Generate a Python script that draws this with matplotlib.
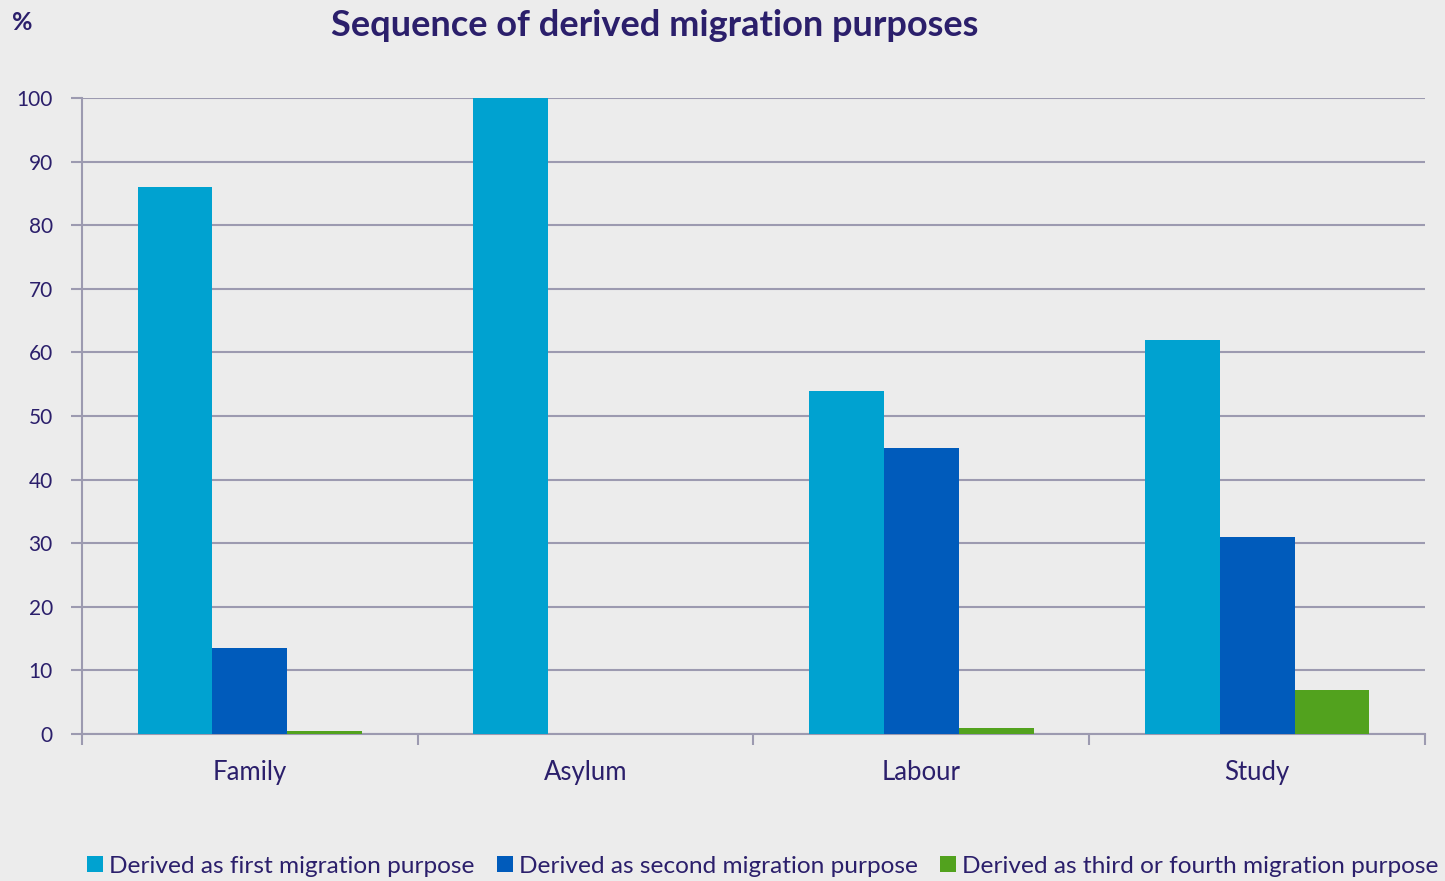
import numpy as np
import matplotlib
matplotlib.use("Agg")
import matplotlib.pyplot as plt

# data
categories = ["Family", "Asylum", "Labour", "Study"]
first_purpose = [86, 100, 54, 62]
second_purpose = [13.5, 0, 45, 31]
third_purpose = [0.5, 0, 1, 7]
series_names = ["Derived as first migration purpose",
                "Derived as second migration purpose",
                "Derived as third or fourth migration purpose"]
yticks = list(range(0, 101, 10))

text_col = "#2b1f6b"
grid_col = "#9c9ab0"
bg = "#ececec"
colors = ["#00a2d0", "#005bbb", "#52a21e"]

plt.rcParams['font.family'] = ['Lato', 'DejaVu Sans']

fig = plt.figure(figsize=(14.45, 8.81), dpi=100, facecolor=bg)
ax = fig.add_axes([0.0567, 0.1668, 0.9295, 0.722])
ax.set_facecolor(bg)

x = np.arange(len(categories))
w = 0.223
for i, vals in enumerate([first_purpose, second_purpose, third_purpose]):
    ax.bar(x + (i - 1) * w, vals, width=w, color=colors[i], label=series_names[i], zorder=3)

ax.set_xlim(-0.5, len(categories) - 0.5)
ax.set_ylim(0, 100)
ax.set_yticks(yticks)
ax.yaxis.grid(True, color=grid_col, linewidth=1.5, zorder=0)
ax.set_axisbelow(True)

# category labels centred, ticks at the group boundaries
ax.set_xticks(x)
ax.set_xticklabels(categories)
ax.set_xticks(np.arange(-0.5, len(categories) + 0.5, 1), minor=True)
ax.tick_params(axis='x', which='major', length=0, pad=19, labelsize=18.5, labelcolor=text_col)
ax.tick_params(axis='x', which='minor', length=8, width=1.5, color=grid_col)
ax.tick_params(axis='y', length=8, width=1.5, color=grid_col, labelsize=15, labelcolor=text_col, pad=13)

for s in ['top', 'right']:
    ax.spines[s].set_visible(False)
ax.spines['left'].set_color(grid_col)
ax.spines['left'].set_linewidth(1.5)
ax.spines['bottom'].set_color(grid_col)
ax.spines['bottom'].set_linewidth(1.5)

fig.text(0.4533, 0.971, "Sequence of derived migration purposes", ha='center', va='center',
         fontsize=26, fontweight='bold', color=text_col)
fig.text(0.008, 0.974, "%", ha='left', va='center', fontsize=18, fontweight='bold', color=text_col)

fig.legend(loc='center', bbox_to_anchor=(0.528, 0.017), ncol=3, frameon=False, fontsize=17.6,
           labelcolor=text_col, handlelength=0.65, handleheight=0.65, handletextpad=0.25,
           columnspacing=0.9, borderaxespad=0)

fig.savefig("out.png", dpi=100, facecolor=bg)
